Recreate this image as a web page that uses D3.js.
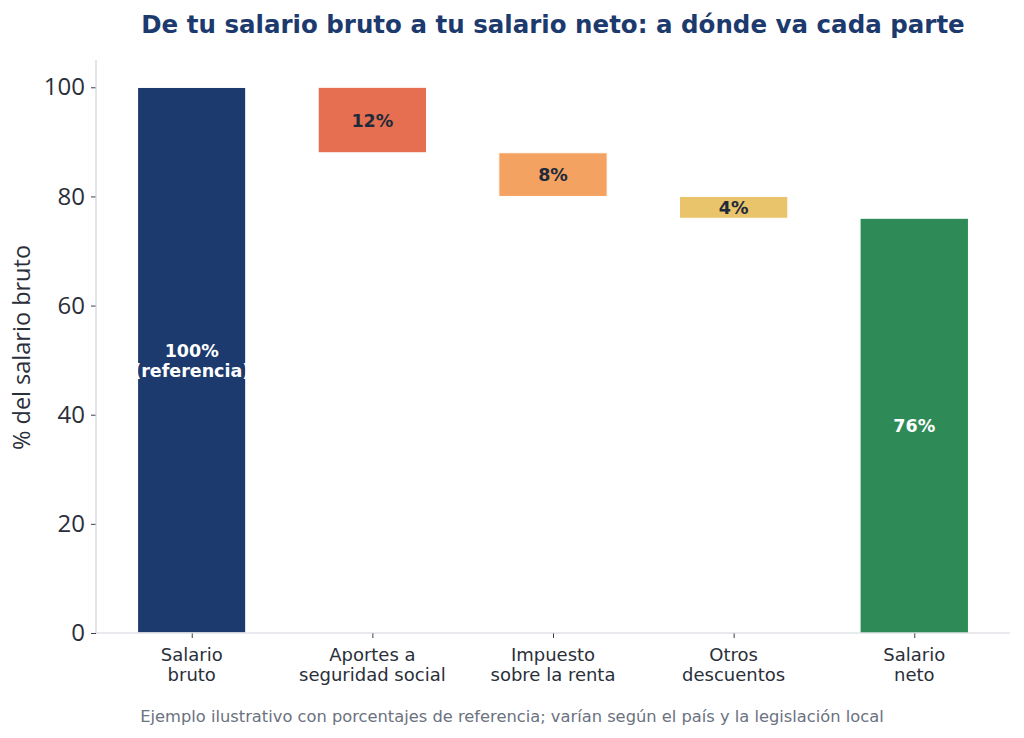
<!DOCTYPE html>
<html><head><meta charset="utf-8">
<script src="https://cdn.jsdelivr.net/npm/d3@7"></script>
<style>html,body{margin:0;padding:0;background:#fff;}svg{display:block;}</style>
</head><body>
<svg id="chart" width="1024" height="738"></svg>
<script>
const categories = ["Salario\nbruto", "Aportes a\nseguridad social", "Impuesto\nsobre la renta", "Otros\ndescuentos", "Salario\nneto"];
const values = [100, -12, -8, -4, 76];
const kinds = ["total", "delta", "delta", "delta", "total"];
const barLabels = ["100%\n(referencia)", "12%", "8%", "4%", "76%"];
const colors = ["#1c3a6e", "#e76f51", "#f4a261", "#e9c46a", "#2e8b57"];
const labelColors = ["#ffffff", "#1f2a3a", "#1f2a3a", "#1f2a3a", "#ffffff"];
const yTicks = [0, 20, 40, 60, 80, 100];

const svg = d3.select("#chart");
const L = 96, R = 1010, T = 60, B = 633;
const x = d3.scaleLinear().domain([-0.53, 4.53]).range([L, R]);
const y = d3.scaleLinear().domain([0, 105]).range([B, T]);
const bw = 0.6;

let run = 0;
const segs = values.map((v, i) => {
  let lo, hi;
  if (kinds[i] === "total") { lo = 0; hi = v; run = v; }
  else { hi = run; lo = run + v; run = lo; }
  return {i, lo, hi};
});

svg.append("g").selectAll("rect").data(segs).join("rect")
  .attr("x", d => x(d.i - bw/2))
  .attr("width", d => x(d.i + bw/2) - x(d.i - bw/2))
  .attr("y", d => y(d.hi))
  .attr("height", d => y(d.lo) - y(d.hi))
  .attr("fill", d => colors[d.i])
  .attr("stroke", "#ffffff").attr("stroke-width", 1);

const lg = svg.append("g");
segs.forEach(d => {
  const lines = barLabels[d.i].split("\n");
  const cy = y((d.lo + d.hi) / 2);
  const lh = 20;
  const t = lg.append("text")
    .attr("x", x(d.i))
    .attr("text-anchor", "middle")
    .attr("font-family", "DejaVu Sans")
    .attr("font-weight", "bold")
    .attr("font-size", 17.5)
    .attr("fill", labelColors[d.i]);
  lines.forEach((ln, k) => {
    t.append("tspan").attr("x", x(d.i))
      .attr("y", cy + (k - (lines.length - 1) / 2) * lh + 6.5)
      .text(ln);
  });
});
svg.append("g").selectAll("rect").data(segs.filter(d => d.i === 0)).join("rect")
  .attr("x", d => x(d.i - bw/2))
  .attr("width", d => x(d.i + bw/2) - x(d.i - bw/2))
  .attr("y", d => y(d.hi))
  .attr("height", d => y(d.lo) - y(d.hi))
  .attr("fill", "none")
  .attr("stroke", "#ffffff").attr("stroke-width", 1);

const yAxis = d3.axisLeft(y).tickValues(yTicks).tickSize(5).tickPadding(6);
const gy = svg.append("g").attr("transform", `translate(${L},0)`).call(yAxis);
gy.select(".domain").remove();
gy.selectAll(".tick line").attr("stroke", "#3a3f4a");
gy.selectAll(".tick text").attr("font-family", "Open Sans").attr("font-size", 24).attr("fill", "#2a2f3a");

const xAxis = d3.axisBottom(x).tickValues(d3.range(categories.length)).tickSize(5).tickFormat("");
const gx = svg.append("g").attr("transform", `translate(0,${B})`).call(xAxis);
gx.select(".domain").remove();
gx.selectAll(".tick line").attr("stroke", "#3a3f4a");
categories.forEach((c, i) => {
  const t = svg.append("text").attr("text-anchor", "middle")
    .attr("font-family", "DejaVu Sans").attr("font-size", 18).attr("fill", "#2a2f3a");
  c.split("\n").forEach((ln, k) => {
    t.append("tspan").attr("x", x(i)).attr("y", B + 28 + k * 20).text(ln);
  });
});

svg.append("line").attr("x1", L).attr("x2", L).attr("y1", T).attr("y2", B)
  .attr("stroke", "#d1d5db").attr("stroke-width", 1.2);
svg.append("line").attr("x1", L).attr("x2", R).attr("y1", B).attr("y2", B)
  .attr("stroke", "#d1d5db").attr("stroke-width", 1.2);

svg.append("text")
  .attr("transform", `translate(30,${(T + B) / 2 + 1}) rotate(-90)`)
  .attr("text-anchor", "middle")
  .attr("font-family", "Open Sans").attr("font-size", 23.5).attr("fill", "#2a2f3a")
  .text("% del salario bruto");

svg.append("text").attr("x", (L + R) / 2).attr("y", 33)
  .attr("text-anchor", "middle")
  .attr("font-family", "DejaVu Sans").attr("font-weight", "bold").attr("font-size", 24.5)
  .attr("fill", "#1c3a6e")
  .text("De tu salario bruto a tu salario neto: a dónde va cada parte");

svg.append("text").attr("x", 512).attr("y", 722)
  .attr("text-anchor", "middle")
  .attr("font-family", "DejaVu Sans").attr("font-size", 16.3).attr("fill", "#6b7280")
  .text("Ejemplo ilustrativo con porcentajes de referencia; varían según el país y la legislación local");
</script>
</body></html>
